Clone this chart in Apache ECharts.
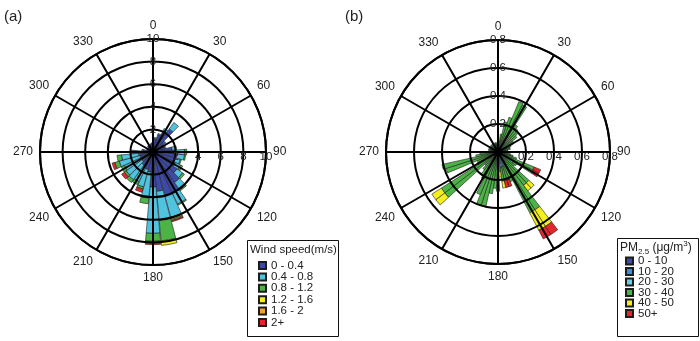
<!DOCTYPE html>
<html><head><meta charset="utf-8">
<script src="https://cdn.jsdelivr.net/npm/echarts@6/dist/echarts.min.js"></script>
<style>html,body{margin:0;padding:0;background:#fff}#c{width:700px;height:341px}</style>
</head><body><div id="c"></div>
<script>
// ---------- Panel (a): wind speed rose ----------
const dirsA = [0,10,20,30,40,50,60,70,80,90,100,110,120,130,140,150,160,170,180,190,200,210,220,230,240,250,260,270,280,290,300,310,320,330,340,350];
const windNames = ['0 - 0.4','0.4 - 0.8','0.8 - 1.2','1.2 - 1.6','1.6 - 2','2+'];
const windColors = ['#3d4aa8','#52c3df','#4cb447','#f3ef1f','#f0a32e','#e3262b'];
const wind_0_04   = [0.9,1.2,1.6,2.1,2.5,1.3,1.0,1.1,1.7,2.0,2.1,2.0,2.2,2.6,3.3,4.0,4.0,3.5,3.1,1.8,1.6,1.5,1.4,1.2,1.2,1.2,1.3,1.8,0.9,0.6,0.5,0.6,0.7,0.6,0.7,0.8];
const wind_04_08  = [0,0.1,0.1,0.2,0.7,0.1,0.1,0.1,0.3,0.8,0.7,0.5,0.5,0.6,0.8,1.1,2.0,2.6,4.1,2.3,1.6,1.4,1.6,1.7,1.6,1.9,1.5,0.2,0.1,0,0,0,0,0,0,0];
const wind_08_12  = [0,0,0,0,0,0,0,0,0.1,0.2,0.1,0.1,0.2,0.2,0.1,0.1,0.2,1.8,0.7,0.5,0.2,0.3,0.3,0.2,0.3,0.4,0.4,0,0,0,0,0,0,0,0,0];
const wind_12_16  = [0,0,0,0,0,0,0,0,0,0,0,0,0,0,0,0,0,0.4,0,0,0,0,0,0,0,0,0,0,0,0,0,0,0,0,0,0];
const wind_16_2   = [0,0,0,0,0,0,0,0,0,0,0,0,0,0,0,0,0.1,0,0.15,0,0,0,0,0,0,0,0,0,0,0,0,0,0,0,0,0];
const wind_2p     = [0,0,0,0,0,0,0,0,0,0,0,0,0,0,0,0,0.1,0,0.15,0,0.3,0,0,0.3,0,0.25,0,0,0,0,0,0,0,0,0,0];
const windSeries = [wind_0_04, wind_04_08, wind_08_12, wind_12_16, wind_16_2, wind_2p];
const radiusMaxA = 10, radiusStepA = 2;

// ---------- Panel (b): PM2.5 rose (5-degree bins) ----------
const dirsB = [0,5,10,15,20,25,30,35,40,45,50,55,60,65,70,75,80,85,90,95,100,105,110,115,120,125,130,135,140,145,150,155,160,165,170,175,180,185,190,195,200,205,210,215,220,225,230,235,240,245,250,255,260,265,270,275,280,285,290,295,300,305,310,315,320,325,330,335,340,345,350,355];
const pmNames = ['0 - 10','10 - 20','20 - 30','30 - 40','40 - 50','50+'];
const pmColors = ['#3a4bae','#3c8fd6','#6dcbe2','#4cb447','#f3ef1f','#e3262b'];
const pm_0_10  = [0.01,0.01,0.01,0.01,0.01,0.01,0.01,0.01,0.01,0.01,0.01,0.01,
                  0.01,0.01,0.01,0.01,0.01,0.01,0.01,0.01,0.01,0.01,0.01,0.01,
                  0.01,0.01,0.01,0.01,0.01,0.01,0.01,0.01,0.01,0.01,0.01,0.01,
                  0.01,0.01,0.01,0.01,0.01,0.01,0.01,0.01,0.01,0.01,0.01,0.01,
                  0.01,0.01,0.01,0.01,0.01,0.01,0.01,0.01,0.01,0.01,0.01,0.01,
                  0.01,0.01,0.01,0.01,0.01,0.01,0.01,0.01,0.01,0.01,0.01,0.01];
const pm_10_20 = [0.01,0.01,0.01,0.02,0.02,0.02,0.02,0.02,0.01,0.01,0.01,0.01,
                  0.01,0.01,0.01,0.01,0.01,0.01,0.01,0.01,0.01,0.01,0.01,0.01,
                  0.01,0.02,0.01,0.01,0.01,0.01,0.01,0.02,0.02,0.02,0.02,0.01,
                  0.01,0.01,0.01,0.01,0.01,0.01,0.01,0.01,0.01,0.01,0.01,0.01,
                  0.01,0.01,0.01,0.01,0.01,0.01,0.01,0.01,0.01,0.01,0.01,0.01,
                  0.01,0.01,0.01,0.01,0.01,0.01,0.01,0.01,0.01,0.01,0.01,0.01];
const pm_20_30 = [0.02,0.02,0.03,0.04,0.05,0.06,0.05,0.04,0.04,0.03,0.03,0.02,
                  0.02,0.02,0.02,0.02,0.02,0.02,0.02,0.02,0.02,0.02,0.02,0.03,
                  0.04,0.10,0.03,0.03,0.03,0.04,0.04,0.06,0.08,0.08,0.08,0.04,
                  0.04,0.04,0.03,0.03,0.03,0.03,0.02,0.02,0.02,0.02,0.02,0.02,
                  0.02,0.02,0.02,0.02,0.02,0.02,0.02,0.02,0.02,0.02,0.02,0.02,
                  0.02,0.02,0.02,0.02,0.02,0.02,0.02,0.02,0.02,0.02,0.02,0.02];
const pm_30_40 = [0.03,0.04,0.08,0.15,0.18,0.30,0.30,0.16,0.15,0.14,0.12,0.09,
                  0.08,0.06,0.05,0.05,0.03,0.03,0.03,0.03,0.05,0.07,0.10,0.23,
                  0.22,0.03,0.10,0.25,0.25,0.43,0.43,0.14,0.10,0.10,0.10,0.08,
                  0.22,0.20,0.25,0.35,0.35,0.28,0.18,0.16,0.12,0.09,0.44,0.44,
                  0.13,0.12,0.35,0.37,0.12,0.09,0.05,0.03,0.02,0.03,0.02,0.03,
                  0.02,0.03,0.02,0.03,0.02,0.03,0.02,0.03,0.02,0.03,0.02,0.03];
const pm_40_50 = [0,0,0,0,0,0,0,0,0,0,0,0,
                  0,0,0,0,0,0,0,0,0,0,0,0,
                  0,0,0,0.05,0.05,0.14,0.14,0,0,0,0.05,0.04,
                  0,0,0,0,0,0,0,0,0,0,0.08,0.08,
                  0,0,0,0,0,0,0,0,0,0,0,0,
                  0,0,0,0,0,0,0,0,0,0,0,0];
const pm_50p   = [0,0,0,0,0,0,0,0,0,0,0,0,
                  0,0,0,0,0,0,0,0,0,0,0,0.05,
                  0.05,0,0,0,0,0.07,0.07,0,0.05,0.05,0,0,
                  0,0,0,0,0,0,0,0,0,0,0,0,
                  0,0,0,0,0,0,0,0,0,0,0,0,
                  0,0,0,0,0,0,0,0,0,0,0,0];
const pmSeries = [pm_0_10, pm_10_20, pm_20_30, pm_30_40, pm_40_50, pm_50p];
const radiusMaxB = 0.8, radiusStepB = 0.2;

const FONT = 'Liberation Sans, Arial, sans-serif';
const chart = echarts.init(document.getElementById('c'), null, {renderer: 'canvas'});

function gridAxes(pi, max, step, fmt) {
  return {
    angle: [
      {polarIndex: pi, type: 'value', min: 0, max: 360, interval: 30, startAngle: 90, clockwise: true, z: 10,
       axisLine: {lineStyle: {color: '#000', width: 2}}, axisTick: {show: false},
       splitLine: {lineStyle: {color: '#000', width: 2}},
       axisLabel: {margin: 7, fontSize: 12, color: '#222', fontFamily: FONT, formatter: v => v === 360 ? '' : String(v)}},
      {polarIndex: pi + 1, type: 'value', min: 0, max: 360, startAngle: 0, show: false},
      {polarIndex: pi + 2, type: 'category', data: null, startAngle: 0, show: false, boundaryGap: true}
    ],
    radius: [
      {polarIndex: pi, type: 'value', min: 0, max: max, interval: step, z: 10,
       axisLine: {show: false}, axisTick: {show: false},
       splitLine: {lineStyle: {color: '#000', width: 2}},
       axisLabel: {showMinLabel: false, margin: 0, fontSize: 11.5, color: '#222', fontFamily: FONT,
         align: 'center', verticalAlign: 'middle', formatter: fmt}},
      {polarIndex: pi + 1, type: 'value', min: 0, max: max, interval: step, z: 10,
       axisLine: {show: false}, axisTick: {show: false}, splitLine: {show: false},
       axisLabel: {showMinLabel: false, margin: 1, fontSize: 11.5, color: '#222', fontFamily: FONT,
         align: 'center', verticalAlign: 'top', rotate: 0, formatter: fmt}},
      {polarIndex: pi + 2, type: 'value', min: 0, max: max, show: false}
    ]
  };
}
const gA = gridAxes(0, radiusMaxA, radiusStepA, v => String(v));
const gB = gridAxes(3, radiusMaxB, radiusStepB, v => Number(v).toFixed(1));
gA.angle[2].data = dirsA.map(String); gA.angle[2].startAngle = 90 + 180 / dirsA.length;
gB.angle[2].data = dirsB.map(String); gB.angle[2].startAngle = 90 + 180 / dirsB.length;

const CA = [153, 152], CB = [498, 152];
const series = [];
windSeries.forEach((arr, k) => series.push({
  type: 'bar', coordinateSystem: 'polar', polarIndex: 2, stack: 'a', name: windNames[k],
  data: arr.map(v => v === 0 ? null : v), barWidth: '96%',
  itemStyle: {color: windColors[k], borderColor: '#1c1c1c', borderWidth: 0.6}, z: 2, silent: true
}));
pmSeries.forEach((arr, k) => series.push({
  type: 'bar', coordinateSystem: 'polar', polarIndex: 5, stack: 'b', name: pmNames[k],
  data: arr.map(v => v === 0 ? null : v), barWidth: '100%',
  itemStyle: {color: pmColors[k], borderColor: '#1c1c1c', borderWidth: 0.6}, z: 2, silent: true
}));

const legendBase = {orient: 'vertical', icon: 'rect', itemWidth: 7, itemHeight: 7, selectedMode: false, z: 20};

chart.setOption({
  animation: false,
  backgroundColor: '#fff',
  polar: [
    {center: CA, radius: 113}, {center: CA, radius: 113}, {center: CA, radius: 113},
    {center: CB, radius: 112}, {center: CB, radius: 112}, {center: CB, radius: 112}
  ],
  angleAxis: [...gA.angle, ...gB.angle],
  radiusAxis: [...gA.radius, ...gB.radius],
  series: series,
  legend: [
    Object.assign({}, legendBase, {data: windNames, left: 253, top: 254.5, itemGap: -0.6,
      textStyle: {fontSize: 11.5, color: '#222', fontFamily: FONT}}),
    Object.assign({}, legendBase, {data: pmNames, left: 620, top: 250, itemGap: -1.5,
      textStyle: {fontSize: 11.5, color: '#222', fontFamily: FONT}})
  ],
  graphic: [
    {type: 'text', left: 4, top: 9, style: {text: '(a)', fontSize: 15, fill: '#222', fontFamily: FONT}},
    {type: 'text', left: 345, top: 9, style: {text: '(b)', fontSize: 15, fill: '#222', fontFamily: FONT}},
    {type: 'rect', z: 1, shape: {x: 247.5, y: 240.5, width: 91, height: 96}, style: {fill: '#fff', stroke: '#111', lineWidth: 1}},
    {type: 'rect', z: 1, shape: {x: 617.5, y: 238.5, width: 81, height: 98}, style: {fill: '#fff', stroke: '#111', lineWidth: 1}},
    {type: 'text', z: 5, left: 250, top: 244, style: {text: 'Wind speed(m/s)', fontSize: 11.5, fill: '#222', fontFamily: FONT}},
    {type: 'text', z: 5, left: 620, top: 240, style: {
      text: '{m|PM}{s|2.5}{m| (μg/m}{p|3}{m|)}', fontFamily: FONT, fill: '#222',
      rich: {m: {fontSize: 12, lineHeight: 16, fontFamily: FONT},
             s: {fontSize: 8, lineHeight: 9, verticalAlign: 'bottom', fontFamily: FONT},
             p: {fontSize: 8, lineHeight: 9, verticalAlign: 'top', fontFamily: FONT}}}}
  ]
});
</script></body></html>
